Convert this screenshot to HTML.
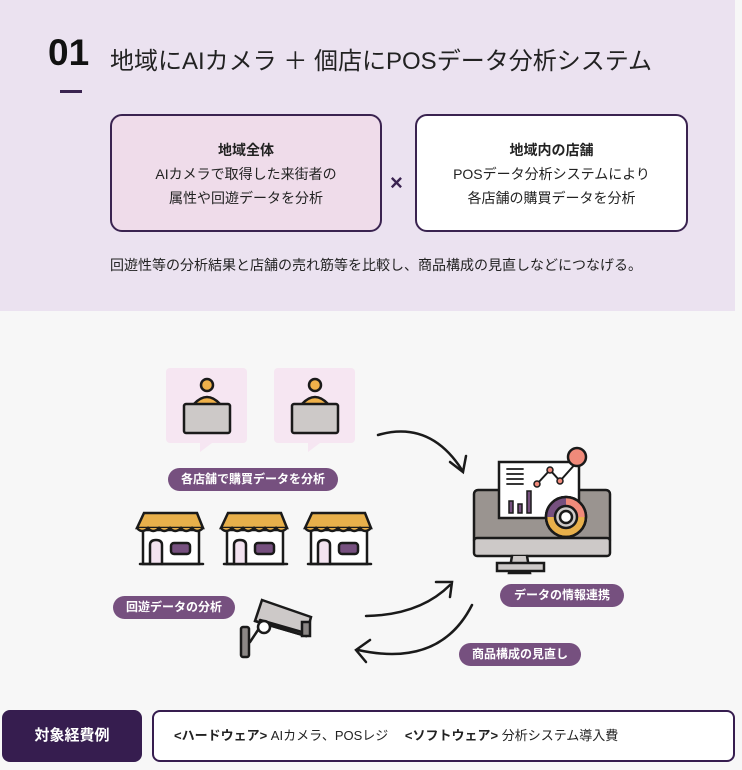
<!DOCTYPE html>
<html><head><meta charset="utf-8"><style>
body{margin:0;width:742px;height:770px;background:#f7f7f7;font-family:"Liberation Sans","Noto Sans CJK JP",sans-serif;position:relative;overflow:hidden;color:#222}
.a{position:absolute}
.top{left:0;top:0;width:735px;height:311px;background:#ebe2f0}
.box{border:2px solid #3a2350;border-radius:12px;box-sizing:border-box;text-align:center;font-size:14px;line-height:24px;padding-top:22px}
.pill{position:absolute;background:#76507f;color:#fff;font-size:12px;font-weight:bold;border-radius:12px;height:23px;line-height:23px;text-align:center}
</style></head><body>
<div class="a top"></div>
<div class="a" style="left:48px;top:32px;font-size:37px;font-weight:bold;color:#111">01</div>
<div class="a" style="left:110px;top:41px;font-size:24px;color:#222">地域にAIカメラ ＋ 個店にPOSデータ分析システム</div>
<div class="a" style="left:60px;top:90px;width:22px;height:3px;background:#3a2350"></div>
<div class="a box" style="left:110px;top:114px;width:272px;height:118px;background:#efdcea"><b>地域全体</b><br>AIカメラで取得した来街者の<br>属性や回遊データを分析</div>
<div class="a" style="left:390px;top:170px;font-size:22px;font-weight:bold;color:#3a2350">×</div>
<div class="a box" style="left:415px;top:114px;width:273px;height:118px;background:#fff"><b>地域内の店舗</b><br>POSデータ分析システムにより<br>各店舗の購買データを分析</div>
<div class="a" style="left:110px;top:255px;font-size:14px">回遊性等の分析結果と店舗の売れ筋等を比較し、商品構成の見直しなどにつなげる。</div>

<svg class="a" style="left:0;top:0" width="742" height="770">
<g stroke="#1a1a1a" stroke-width="2.5" fill="none" stroke-linecap="round">
<!-- speech bubbles -->
<g fill="#f6e6f2" stroke="none"><rect x="166" y="368" width="81" height="75" rx="4"/><polygon points="200,443 212,443 200,452"/><rect x="274" y="368" width="81" height="75" rx="4"/><polygon points="308,443 320,443 308,452"/></g>
<g><circle cx="207" cy="385" r="6" fill="#efb14a"/><path d="M194 404 Q207 390 220 404" fill="#efb14a"/><rect x="184" y="404" width="46" height="29" rx="2" fill="#cdc9c8"/>
<circle cx="315" cy="385" r="6" fill="#efb14a"/><path d="M302 404 Q315 390 328 404" fill="#efb14a"/><rect x="292" y="404" width="46" height="29" rx="2" fill="#cdc9c8"/></g>
<!-- shops -->
<g id="s"><rect x="143" y="530" width="56" height="34" fill="#fff"/><path d="M144 513 L197 513 L203 528 L137 528 Z" fill="#e8b04b"/><path d="M137 528 q5 6 11 0 q5 6 11 0 q5 6 11 0 q5 6 11 0 q5 6 11 0 q5 6 11 0" fill="#e8b04b"/><path d="M150 564 V545 q0-5 6-5 q6 0 6 5 V564" fill="#f3e3f0"/><rect x="171" y="543" width="19" height="11" rx="3" fill="#76507f"/><line x1="140" y1="564" x2="203" y2="564"/></g>
<use href="#s" x="84"/><use href="#s" x="168"/>
<!-- camera -->
<path d="M262 600 L311 617 L306 636 L255 621 Z" fill="#cdc9c8"/><path d="M255 621 L306 636 L302 632 L260 620" fill="#999"/><rect x="302" y="622" width="8" height="14" fill="#8c8886"/><circle cx="264" cy="627" r="6" fill="#fff"/><path d="M258 630 L250 642" /><rect x="241" y="627" width="8" height="30" rx="2" fill="#8c8886"/>
<!-- arrows -->
<path d="M378 435 Q430 420 462 470"/><path d="M450 462 L463 472 L466 456"/>
<path d="M366 616 Q420 615 450 585"/><path d="M436 582 L452 582 L450 597"/>
<path d="M472 605 Q440 668 358 650"/><path d="M370 640 L356 650 L366 662"/>
<!-- monitor -->
<rect x="474" y="490" width="136" height="54" rx="4" fill="#9a9490"/><rect x="474" y="538" width="136" height="18" rx="3" fill="#cdc9c8"/><path d="M512 556 L509 573 L530 573 L527 556" fill="#cdc9c8"/><rect x="497" y="563" width="47" height="8" fill="#cdc9c8"/>
<rect x="499" y="462" width="80" height="56" fill="#fff"/>
<path d="M507 469 h16 M507 474 h16 M507 479 h16 M507 484 h16" stroke-width="1.8"/>
<rect x="509" y="501" width="4" height="12" fill="#76507f" stroke-width="1.5"/><rect x="518" y="504" width="4" height="9" fill="#76507f" stroke-width="1.5"/><rect x="527" y="491" width="4" height="22" fill="#76507f" stroke-width="1.5"/>
<path d="M537 484 L550 470 L560 481 L577 462" stroke-width="2"/><circle cx="537" cy="484" r="3" fill="#f08a7a" stroke-width="1.5"/><circle cx="550" cy="470" r="3" fill="#f08a7a" stroke-width="1.5"/><circle cx="560" cy="481" r="3" fill="#f08a7a" stroke-width="1.5"/><circle cx="577" cy="457" r="9" fill="#f08a7a"/>
<circle cx="566" cy="517" r="20" fill="#e8b04b"/><path d="M566 497 A20 20 0 0 0 546 517 L566 517 Z" fill="#76507f" stroke="none"/><path d="M566 497 A20 20 0 0 1 586 517 L566 517 Z" fill="#f08a7a" stroke="none"/><circle cx="566" cy="517" r="20"/><circle cx="566" cy="517" r="11" fill="#cdc9c8"/><circle cx="566" cy="517" r="6" fill="#fff"/>
</g></svg>
<div class="pill" style="left:168px;top:468px;width:170px">各店舗で購買データを分析</div>
<div class="pill" style="left:113px;top:596px;width:122px">回遊データの分析</div>
<div class="pill" style="left:500px;top:584px;width:124px">データの情報連携</div>
<div class="pill" style="left:459px;top:643px;width:122px">商品構成の見直し</div>

<div class="a" style="left:2px;top:710px;width:140px;height:52px;background:#361d4f;border-radius:8px;color:#fff;font-weight:bold;font-size:15px;line-height:52px;text-align:center">対象経費例</div>
<div class="a" style="left:152px;top:710px;width:583px;height:52px;border:2px solid #361d4f;border-radius:8px;box-sizing:border-box;background:#fff;font-size:13px;line-height:48px;padding-left:20px"><b>&lt;ハードウェア&gt;</b> AIカメラ、POSレジ　 <b>&lt;ソフトウェア&gt;</b> 分析システム導入費</div>
</body></html>
